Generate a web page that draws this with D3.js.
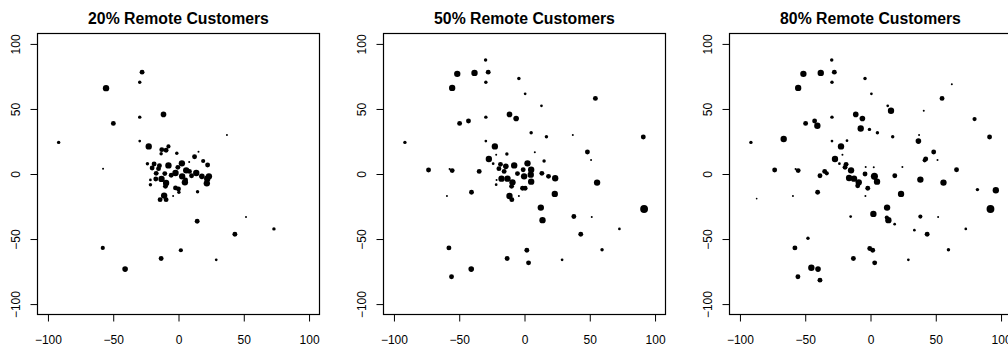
<!DOCTYPE html>
<html>
<head>
<meta charset="utf-8">
<script src="https://cdn.jsdelivr.net/npm/d3@7"></script>
<style>
  body { margin: 0; background: #fff; }
  svg { display: block; font-family: "Liberation Sans", Arial, sans-serif; }
</style>
</head>
<body>
<svg id="chart" width="1008" height="347"></svg>
<script>
// panel titles
var titles = ["20% Remote Customers", "50% Remote Customers", "80% Remote Customers"];
var ticks = [-100, -50, 0, 50, 100];

// [x, y, weight]
var points20 = [
  [-27.9, 78.3, 3], [-29.7, 70.6, 2], [-55.5, 66, 4], [-29.7, 43.7, 2], [-11.5, 45.8, 3.5],
  [-49.9, 38.9, 3], [-91.8, 24.3, 2], [37.1, 29.9, 1], [-29.7, 25.3, 1.5], [-22.8, 21.2, 4],
  [-57.8, 4.1, 1], [14.3, -36.3, 3], [51.7, -33, 1], [73.1, -42.2, 2], [43.2, -46.3, 3],
  [-58, -56.8, 2.5], [1.8, -58.6, 2.5], [-13.3, -65, 3], [28.9, -66, 1.5], [-40.9, -73.1, 3.5],
  [14.6, -13.6, 2], [-4.1, -16.9, 1],
  [-12.8, 18.7, 3], [-9.5, 18.2, 3], [-7.7, 21.2, 2.5], [-13.3, 15.6, 2], [-1.3, 15.9, 2],
  [15.3, 17.1, 1], [12.3, 13.3, 3], [8.2, 9.2, 1], [18.9, 10, 2.5], [22.3, 6.9, 3],
  [-23.8, 7.9, 2], [-18.7, 7.7, 3], [-20.2, 4.6, 3], [-14.6, 6.4, 3], [-7.7, 6.6, 4],
  [-0.5, 5.1, 3], [2.6, 8.2, 4], [5.9, 2.8, 4], [8.4, 2, 3], [13.6, 0.8, 4],
  [10, -1.3, 3], [2.8, -1.8, 4], [-2.3, 0.8, 4], [-5.6, -1, 3], [-10.5, 0.3, 3],
  [-17.1, 0.5, 3], [-15.3, 4.1, 3], [-17.4, -3.8, 3], [-13, -3.8, 4], [-9.5, -6.9, 4],
  [-10, -9.5, 3], [-2.3, -10.7, 3], [0, -11.5, 3], [0.3, -14, 2], [4.9, -6.4, 4],
  [5.4, -4.6, 3], [17.9, -1.8, 3.5], [22, -3.6, 4], [23.3, -1.8, 4], [21.7, -7.2, 4],
  [-21.5, -4.6, 1.5], [-21.5, -8.2, 2], [-11, -16.6, 4], [-14.1, -19.7, 3], [-9.5, -19.7, 3]
];

var points50 = [
  [-29.8, 87.7, 2], [-51.5, 77, 4], [-38.3, 77.7, 4], [-27.8, 78.3, 3], [-29.6, 70.6, 2],
  [-4.3, 73.4, 2], [-55.4, 66.2, 4], [0.5, 61.6, 1.5], [54.3, 58.1, 3], [13, 52.4, 1.5],
  [-29.6, 43.7, 2], [-11.5, 45.8, 3.5], [-6.4, 42.7, 3.5], [-49.7, 38.9, 3], [-42.9, 40.7, 3],
  [5.1, 31.7, 2], [16.8, 28.6, 2], [37, 29.9, 1], [91, 28.4, 3], [-91.6, 24.3, 2],
  [-29.6, 25.3, 1.5], [-22.7, 21.2, 4], [-21.7, 14.8, 1], [-13.5, 15.3, 2], [-27.3, 11.5, 4],
  [-24, 7.9, 1.5], [-19.6, 4.1, 3], [-18.4, 7.4, 3], [-14.3, 5.9, 3.5], [-15.6, 2, 3],
  [-7.9, 6.6, 4], [2.3, 8.2, 4], [7.9, 16.8, 1], [15, 10, 2], [5.1, 3.3, 4],
  [4.8, -0.5, 4], [5.1, -5.9, 4], [-1, 3.3, 3], [-5.4, 0.3, 3], [-0.3, -1.8, 4],
  [13.3, 0.5, 3], [18.4, -1.8, 3], [23.5, -3.3, 4], [23.2, -15.3, 4], [-17.6, -3.6, 4],
  [-13, -3.6, 4], [-9.2, -6.4, 4], [-9.9, -9.5, 3], [-1.5, -11, 3], [0.5, -11, 3],
  [-21.4, -4.6, 1], [-21.7, -8.2, 1.5], [-4.3, -16.9, 1], [-59.4, -16.9, 1], [-40.6, -14, 3],
  [-73.5, 3.1, 3], [-55.4, 2.6, 3], [-34.7, 2, 3], [-57.4, 3.8, 1], [-11.5, -16.9, 4],
  [-9.7, -19.7, 3], [12.5, -25.8, 4], [13.8, -35.5, 4], [37.8, -32.7, 3], [51.5, -33, 1],
  [48.2, 16.9, 3], [51, 10.7, 1], [55.6, -6.6, 4], [91.6, -26.9, 5], [72.7, -42.2, 1.5],
  [43.1, -46.3, 3], [59.4, -58.3, 2], [28.8, -66, 1.5], [1.8, -58.6, 3], [3.1, -68.3, 3],
  [-13.3, -65, 3], [-40.8, -73.1, 3.5], [-57.9, -56.8, 3], [-55.9, -79, 3]
];

var points80 = [
  [-29.7, 87.7, 2], [-51.4, 77, 4], [-38.1, 77.7, 4], [-27.7, 78.3, 3], [-29.5, 70.6, 2],
  [-4.2, 73.4, 2], [-55.4, 66.2, 4], [0.7, 61.6, 1.5], [62.3, 69, 1], [54.8, 58.1, 3],
  [13.2, 52.4, 1.5], [15.7, 48.6, 4], [40.8, 48.6, 1], [79.7, 42.2, 2.5], [-29.5, 43.7, 2],
  [-11.3, 45.8, 3.5], [-6.2, 42.7, 3.5], [-49.7, 38.9, 3], [-42.8, 40.7, 3], [-40.7, 37.1, 4],
  [-7.5, 35, 4], [-0.8, 34.3, 2], [5.3, 31.7, 2], [17, 28.6, 2], [37.2, 29.9, 1],
  [36.7, 25.3, 3.5], [91.2, 28.4, 3], [-66.5, 26.9, 4], [-91.6, 24.3, 2], [-29.5, 25.3, 1.5],
  [-18, 25.6, 1.5], [-22.6, 21.2, 4], [-21.5, 14.8, 1], [-27.2, 11.5, 4], [-23.8, 7.9, 1.5],
  [-18.7, 7.4, 3], [-19.5, 5.1, 3], [-14.9, 2.8, 4], [-16.4, -3.1, 4], [-12.6, -3.6, 4],
  [-9, -6.4, 4], [-9.8, -9, 3], [-4.2, 0, 3], [-3.7, 5.4, 1], [-2.1, -11, 3],
  [-3.9, -16.9, 1], [2.5, 5.1, 1], [3, -1.8, 4.5], [5, -5.9, 4], [18.6, -1.3, 3],
  [24.4, 5.4, 1], [23.4, -15.3, 4], [38.2, -4.3, 4], [42.3, 11.5, 3], [41.5, 10.5, 2.5],
  [48.4, 16.9, 3], [51.3, 10.7, 1], [55.9, -6.6, 4], [65.9, 3.3, 3], [81.9, -12, 2],
  [96, -12.5, 4], [91.9, -26.9, 5], [73, -42.2, 1.5], [43.4, -46.3, 3], [38.2, -32.7, 2.5],
  [51.8, -33, 1], [33.6, -43.2, 1.5], [59.7, -58.3, 2], [29, -66, 1.5], [12.7, -25.8, 4],
  [2.2, -30.7, 4], [12.5, -33.5, 2.5], [13.7, -35.5, 4], [18.5, -38.6, 1.5], [-15.2, -32.7, 1.5],
  [-40.5, -14, 3], [-38.7, -1.3, 3], [-35.1, 2, 3], [-33.5, 0.5, 2.5], [-55.4, 2.6, 3],
  [-57.4, 3.8, 1], [-73.4, 3.1, 3], [-59.4, -16.9, 1], [-87.2, -18.9, 0.8], [-47.9, -49.4, 2],
  [-57.9, -56.8, 3], [-0.6, -57.3, 3], [1.7, -58.6, 3], [3.2, -68.3, 3], [-13.1, -65, 3],
  [-45.3, -72.1, 4], [-40.2, -73.1, 3.5], [-55.6, -79, 3], [-38.7, -81.6, 3]
];

var panels = [points20, points50, points80];

(function () {
  var svg = d3.select("#chart");
  var panelLeft = [37.5, 383.5, 729.5];
  var plotTop = 33.5, w = 282, h = 281;

  var r = d3.scaleLinear().domain([1, 5]).range([1.0, 3.9]);

  panels.forEach(function (data, i) {
    var g = svg.append("g").attr("transform", "translate(" + panelLeft[i] + "," + plotTop + ")");

    var x = d3.scaleLinear().domain([-108, 108]).range([0, w]);
    var y = d3.scaleLinear().domain([-108, 108]).range([h, 0]);

    g.selectAll("circle")
      .data(data)
      .enter().append("circle")
      .attr("cx", function (d) { return x(d[0]); })
      .attr("cy", function (d) { return y(d[1]); })
      .attr("r", function (d) { return r(d[2]); })
      .attr("fill", "#000");

    // box
    g.append("rect")
      .attr("width", w).attr("height", h)
      .attr("fill", "none").attr("stroke", "#000").attr("stroke-width", 1.2);

    var xAxis = g.append("g")
      .attr("transform", "translate(0," + h + ")")
      .call(d3.axisBottom(x).tickValues(ticks).tickSize(7).tickSizeOuter(0));
    xAxis.select(".domain").remove();
    xAxis.selectAll("line").attr("stroke", "#000");
    xAxis.selectAll("text")
      .attr("y", 21).attr("dy", "0.71em")
      .attr("font-size", 12).attr("font-family", "Liberation Sans, Arial, sans-serif").attr("fill", "#000");

    var yAxis = g.append("g")
      .call(d3.axisLeft(y).tickValues(ticks).tickSize(7).tickSizeOuter(0));
    yAxis.select(".domain").remove();
    yAxis.selectAll("line").attr("stroke", "#000");
    yAxis.selectAll("text")
      .attr("x", null).attr("dy", null)
      .attr("transform", "translate(-18,0) rotate(-90)")
      .attr("text-anchor", "middle")
      .attr("font-size", 12).attr("font-family", "Liberation Sans, Arial, sans-serif").attr("fill", "#000");

    svg.append("text")
      .attr("x", panelLeft[i] + w / 2)
      .attr("y", 23.5)
      .attr("text-anchor", "middle")
      .attr("font-weight", "bold")
      .attr("font-size", 15.8)
      .text(titles[i]);
  });
})();
</script>
</body>
</html>
